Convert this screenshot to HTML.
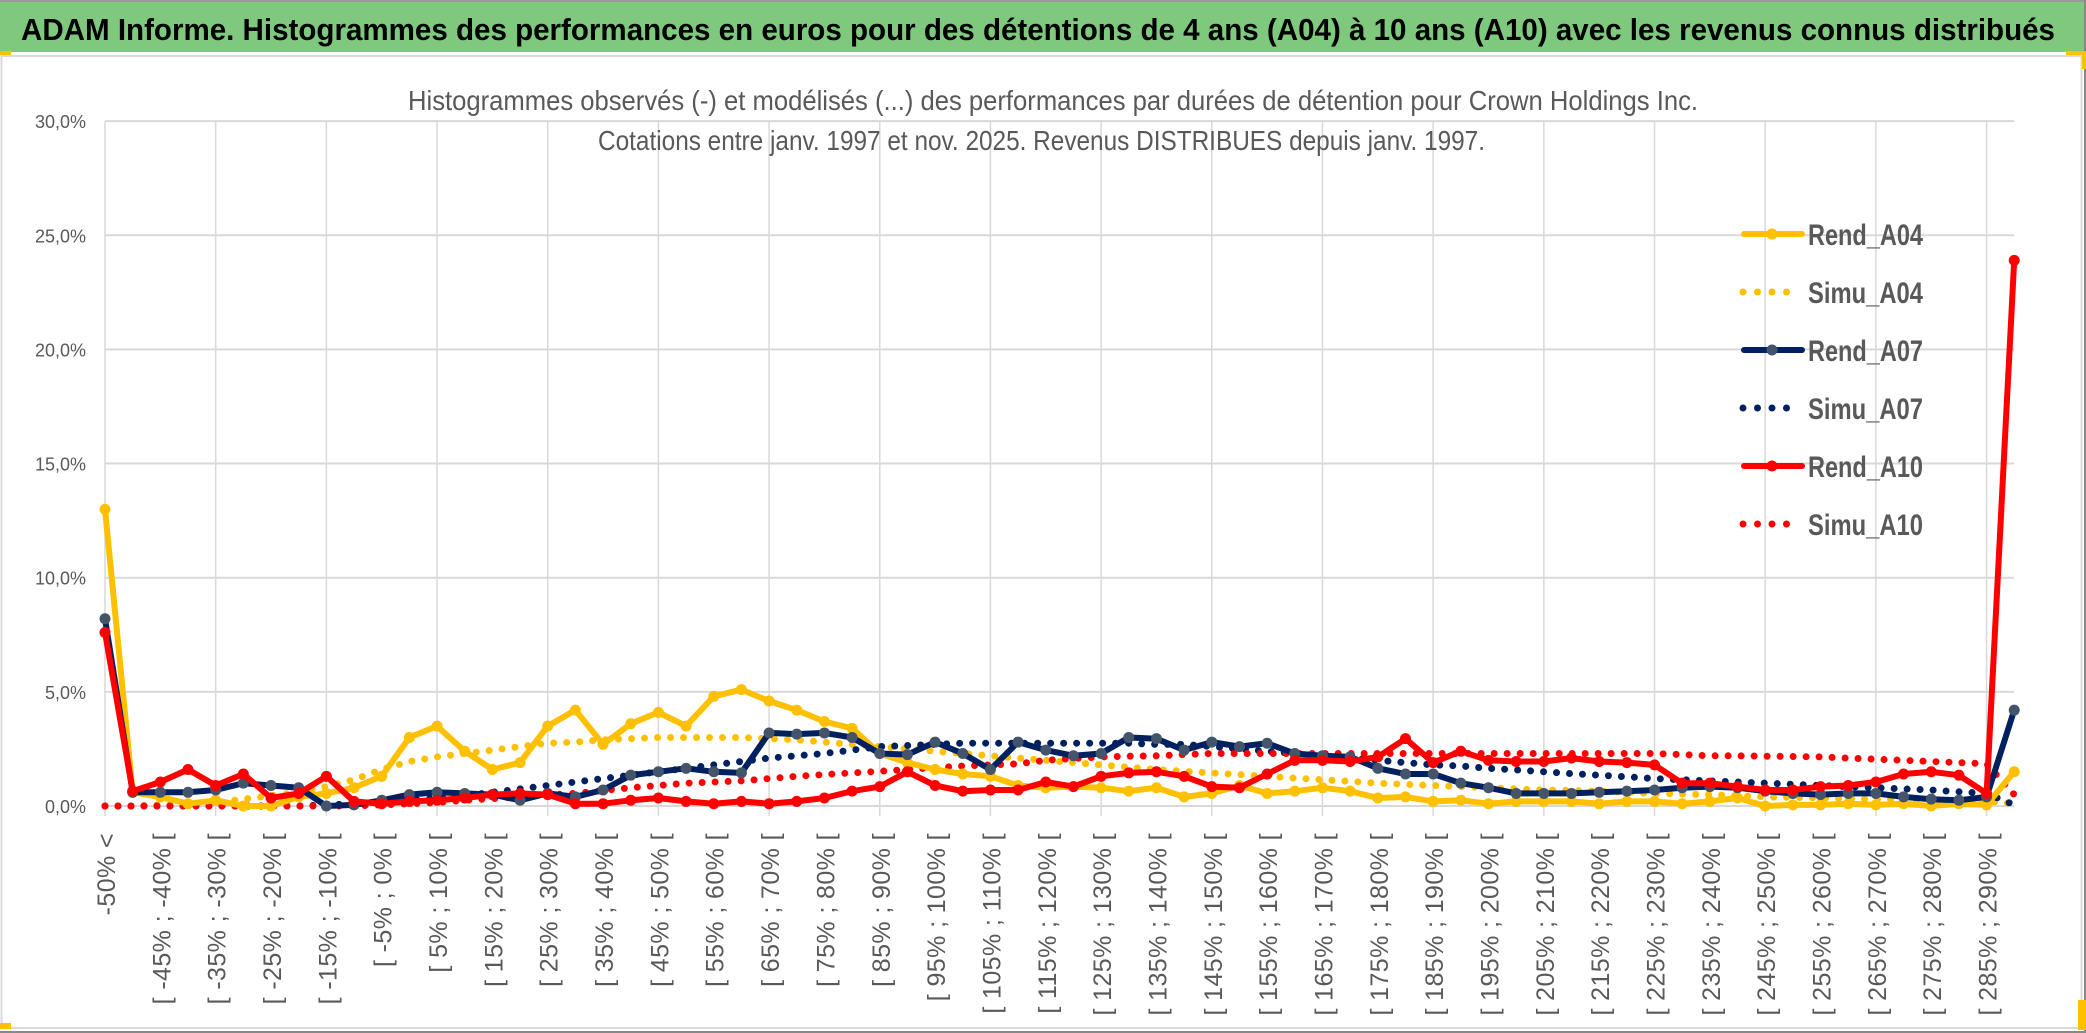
<!DOCTYPE html>
<html><head><meta charset="utf-8">
<style>
html,body{margin:0;padding:0;background:#fff;}
svg{display:block;}
</style></head>
<body>
<svg id="chart" width="2086" height="1033" viewBox="0 0 2086 1033" xmlns="http://www.w3.org/2000/svg">
  <rect x="0" y="0" width="2086" height="1033" fill="#fff"/>
  <rect x="0" y="2" width="2086" height="50" fill="#7FC97F"/>
  <line x1="0" y1="1" x2="2086" y2="1" stroke="#999" stroke-width="2"/>
  <text x="21" y="40" font-family="Liberation Sans, sans-serif" font-weight="bold" font-size="31" fill="#000" textLength="2034" lengthAdjust="spacingAndGlyphs">ADAM Informe. Histogrammes des performances en euros pour des détentions de 4 ans (A04) à 10 ans (A10) avec les revenus connus distribués</text>
  <rect x="1.5" y="56" width="2080" height="972" fill="none" stroke="#d9d9d9" stroke-width="2"/>
  <line x1="2085" y1="0" x2="2085" y2="1033" stroke="#888" stroke-width="2"/>
  <line x1="0" y1="1032" x2="2086" y2="1032" stroke="#888" stroke-width="2"/>
  <rect x="0" y="51" width="11" height="4" fill="#FFC000"/>
  <rect x="2066" y="51" width="20" height="4" fill="#FFC000"/>
  <rect x="2082" y="51" width="4" height="18" fill="#FFC000"/>
  <rect x="0" y="1023" width="11" height="6" fill="#FFC000"/>
  <rect x="2078" y="1000" width="8" height="30" fill="#FFC000"/>
  <g id="grid"></g>
  <g id="yaxis"></g>
  <g id="xaxis"></g>
  <text x="408" y="110" font-family="Liberation Sans, sans-serif" font-size="28" fill="#595959" textLength="1290" lengthAdjust="spacingAndGlyphs">Histogrammes observés (-) et modélisés (...) des performances par durées de détention pour Crown Holdings Inc.</text>
  <text x="598" y="150" font-family="Liberation Sans, sans-serif" font-size="28" fill="#595959" textLength="887" lengthAdjust="spacingAndGlyphs">Cotations entre janv. 1997 et nov. 2025. Revenus DISTRIBUES depuis janv. 1997.</text>
  <g id="series"></g>
  <g id="legend"></g>
</svg>
<script>
const yTicks = [0, 5, 10, 15, 20, 25, 30];
const rendA04 = [13.0,0.6,0.4,0.1,0.25,0,0,0.4,0.55,0.8,1.3,3.0,3.5,2.4,1.6,1.9,3.5,4.2,2.7,3.6,4.1,3.5,4.8,5.1,4.6,4.2,3.7,3.4,2.3,1.9,1.6,1.4,1.3,0.9,0.8,0.85,0.8,0.65,0.8,0.4,0.55,0.9,0.55,0.65,0.8,0.65,0.35,0.4,0.2,0.25,0.1,0.2,0.2,0.2,0.1,0.2,0.2,0.1,0.2,0.35,0,0.05,0.05,0.1,0.05,0.1,0,0.1,0.05,1.5];
const simuA04 = [0,0,0.05,0.1,0.15,0.3,0.45,0.6,0.85,1.15,1.6,1.95,2.15,2.3,2.45,2.6,2.75,2.8,2.9,2.95,3.0,3.0,3.0,3.0,2.95,2.9,2.8,2.7,2.6,2.5,2.4,2.3,2.2,2.1,2.0,1.9,1.8,1.7,1.6,1.52,1.45,1.38,1.3,1.22,1.15,1.08,1.0,0.95,0.9,0.85,0.8,0.75,0.7,0.68,0.65,0.6,0.55,0.52,0.5,0.45,0.4,0.38,0.35,0.32,0.3,0.28,0.25,0.22,0.2,0.1];
const rendA07 = [8.2,0.6,0.6,0.6,0.7,1.0,0.9,0.8,0,0.05,0.25,0.5,0.6,0.55,0.5,0.25,0.55,0.4,0.7,1.35,1.5,1.65,1.5,1.45,3.2,3.15,3.2,3.0,2.3,2.25,2.8,2.3,1.6,2.8,2.45,2.2,2.3,3.0,2.95,2.45,2.8,2.6,2.75,2.3,2.2,2.15,1.65,1.4,1.4,1.0,0.8,0.55,0.55,0.55,0.6,0.65,0.7,0.8,0.85,0.8,0.65,0.55,0.5,0.55,0.55,0.4,0.3,0.25,0.4,4.2];
const simuA07 = [0,0,0,0,0,0,0,0,0.05,0.1,0.15,0.25,0.35,0.45,0.6,0.75,0.9,1.05,1.2,1.35,1.5,1.65,1.8,1.95,2.1,2.2,2.3,2.45,2.6,2.65,2.7,2.75,2.75,2.75,2.75,2.75,2.75,2.75,2.7,2.7,2.6,2.5,2.4,2.3,2.2,2.1,2.0,1.9,1.8,1.75,1.65,1.58,1.5,1.42,1.35,1.28,1.2,1.15,1.1,1.05,1.0,0.95,0.9,0.85,0.8,0.75,0.7,0.62,0.55,0.05];
const rendA10 = [7.6,0.65,1.05,1.6,0.9,1.4,0.35,0.55,1.3,0.2,0.1,0.2,0.25,0.35,0.5,0.55,0.5,0.1,0.1,0.25,0.35,0.2,0.1,0.2,0.1,0.2,0.35,0.65,0.85,1.5,0.9,0.65,0.7,0.7,1.05,0.85,1.3,1.45,1.5,1.3,0.85,0.8,1.4,2.0,2.0,1.95,2.15,2.95,1.9,2.4,2.0,1.95,1.95,2.1,1.95,1.9,1.8,1.0,1.0,0.85,0.7,0.7,0.85,0.9,1.05,1.4,1.5,1.35,0.55,23.9];
const simuA10 = [0,0,0,0,0,0,0,0,0,0,0.05,0.1,0.15,0.25,0.32,0.4,0.48,0.55,0.68,0.8,0.9,1.0,1.05,1.1,1.2,1.3,1.38,1.45,1.52,1.6,1.68,1.75,1.8,1.85,2.0,2.08,2.15,2.18,2.2,2.25,2.3,2.3,2.3,2.3,2.3,2.3,2.3,2.3,2.3,2.3,2.3,2.3,2.3,2.3,2.3,2.3,2.3,2.25,2.2,2.2,2.18,2.17,2.15,2.1,2.05,2.0,1.95,1.9,1.85,0.5];

const NS = "http://www.w3.org/2000/svg";
const N = rendA04.length;
const X0 = 105, DX = 27.67, Y0 = 806, PXPCT = 22.83;
function xs(i){ return X0 + i*DX; }
function ys(v){ return Y0 - v*PXPCT; }
function mk(tag, attrs, parent){ const e=document.createElementNS(NS,tag); for(const k in attrs) e.setAttribute(k, attrs[k]); parent.appendChild(e); return e; }
function catLabel(i){
  if(i===0) return "-50% <";
  const lo = -50 + 5*(i-1), hi = lo+5;
  return "[ " + lo + "% ; " + hi + "% [";
}

const grid = document.getElementById('grid');
const xRight = xs(N-1);
yTicks.forEach(t=>{
  const l = mk('line',{x1:X0,x2:xRight,y1:ys(t),y2:ys(t),stroke:'#d9d9d9','stroke-width':2},grid);
  
  
});
for(let i=0;i<N;i+=4){
  const l = mk('line',{x1:xs(i),x2:xs(i),y1:ys(30),y2:Y0+10,stroke:'#d9d9d9','stroke-width':1.5},grid);
  
  
}
const yaxis = document.getElementById('yaxis');
yTicks.forEach(t=>{
  const tx = mk('text',{x:86,y:ys(t)+7,'text-anchor':'end','font-family':'Liberation Sans, sans-serif','font-size':18,fill:'#595959'},yaxis);
  tx.textContent = t.toFixed(1).replace('.',',')+'%';
  
  
});
const xaxis = document.getElementById('xaxis');
for(let i=0;i<N-1;i+=2){
  const x = xs(i)+10;
  const tx = mk('text',{x:x,y:833,transform:`rotate(-90 ${x} 833)`,'text-anchor':'end','font-family':'Liberation Sans, sans-serif','font-size':25,'letter-spacing':'0.4',fill:'#595959'},xaxis);
  tx.textContent = catLabel(i);
  
  
}

const sg = document.getElementById('series');
function pts(arr){ return arr.map((v,i)=>xs(i).toFixed(1)+','+ys(v).toFixed(1)).join(' '); }
function dotted(arr,color,name){
  const p = mk('polyline',{points:pts(arr),fill:'none',stroke:color,'stroke-width':7,'stroke-linecap':'round','stroke-dasharray':'0 13'},sg);
  
  
}
function solid(arr,color,mcolor,name){
  const p = mk('polyline',{points:pts(arr),fill:'none',stroke:color,'stroke-width':6,'stroke-linejoin':'round'},sg);
  
  
  arr.forEach((v,i)=>{
    const c = mk('circle',{cx:xs(i),cy:ys(v),r:5.5,fill:mcolor},sg);
    
    
  });
}
dotted(simuA04,'#FFC000','simu-a04-line');
dotted(simuA07,'#002060','simu-a07-line');
dotted(simuA10,'#FF0000','simu-a10-line');
solid(rendA04,'#FFC000','#FFC000','rend-a04-line');
solid(rendA07,'#002060','#44546A','rend-a07-line');
solid(rendA10,'#FF0000','#FF0000','rend-a10-line');

const lg = document.getElementById('legend');
const legendItems = [
  ['Rend_A04','#FFC000','#FFC000',false],
  ['Simu_A04','#FFC000',null,true],
  ['Rend_A07','#002060','#44546A',false],
  ['Simu_A07','#002060',null,true],
  ['Rend_A10','#FF0000','#FF0000',false],
  ['Simu_A10','#FF0000',null,true]
];
legendItems.forEach((it,k)=>{
  const y = 234 + k*58;
  const g = mk('g',{},lg);
  
  
  if(it[3]){
    mk('line',{x1:1743,x2:1800,y1:y,y2:y,stroke:it[1],'stroke-width':7,'stroke-linecap':'round','stroke-dasharray':'0 14.5'},g);
  } else {
    mk('line',{x1:1744,x2:1802,y1:y,y2:y,stroke:it[1],'stroke-width':6,'stroke-linecap':'round'},g);
    mk('circle',{cx:1772,cy:y,r:5.5,fill:it[2]},g);
  }
  const t = mk('text',{x:1808,y:y+11,'font-family':'Liberation Sans, sans-serif','font-weight':'bold','font-size':30,fill:'#595959',textLength:115,lengthAdjust:'spacingAndGlyphs'},g);
  t.textContent = it[0];
});
</script>
</body></html>
